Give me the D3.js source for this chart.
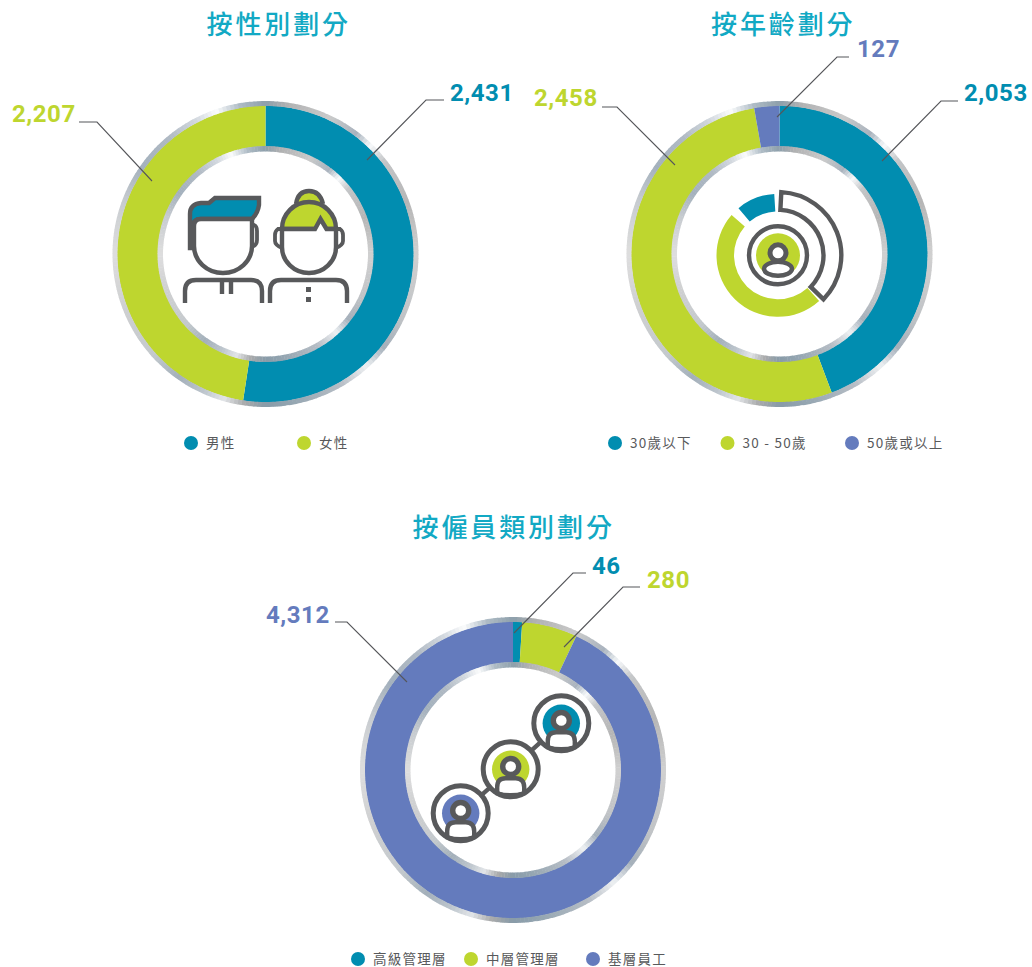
<!DOCTYPE html>
<html><head><meta charset="utf-8">
<script src="https://cdn.jsdelivr.net/npm/d3@7/dist/d3.min.js"></script>
<style>html,body{margin:0;padding:0;background:#fff;overflow:hidden}svg{display:block}</style>
</head><body><svg id="c" width="1032" height="967"></svg>
<script>
const BLUE="#018db0",GREEN="#bed62f",PURPLE="#647bbd",GREY="#58595b",TITLE="#12a9c4";
// data
const genderCats=["男性","女性"],genderVals=[2431,2207];
const ageCats=["30歲以下","30 - 50歲","50歲或以上"],ageVals=[2053,2458,127];
const roleCats=["高級管理層","中層管理層","基層員工"],roleVals=[46,280,4312];
const seriesColors=[BLUE,GREEN,PURPLE];
// metallic ring colour stops [degrees clockwise from top, colour]
const ringDeg=[0,8,25,37,44,52,70,90,115,128,138,150,170,180,188,196,204,215,228,250,270,290,305,320,333,341,350,360];
const ringCol=["#8d9fab","#b0b1b2","#cacaca","#a9b3be","#f7f9fb","#c3c5c7","#b6b6b6","#d0d0d0","#c0c3c6","#a4afba","#eef1f3","#b6bdc5","#94a5b1","#889ba8","#a9aaab","#e2e5e8","#bec6cd","#a3afba","#c4c9cd","#cfd0d1","#dedede","#c8ccd0","#a4b1bd","#afb9c3","#d4dae0","#fbfcfd","#afbcc6","#8d9fab"];
const ringColor=d3.scaleLinear().domain(ringDeg).range(ringCol).interpolate(d3.interpolateRgb);
const ringSteps=d3.range(0,360,1.5);

const svg=d3.select("#c");
const rad=d=>d*Math.PI/180;
const R={o2:153,o1:148,i1:108,i2:102.5};

function donut(cx,cy,vals){
  const g=svg.append("g").attr("transform",`translate(${cx},${cy})`);
  const arc=d3.arc().innerRadius(R.i1-.5).outerRadius(R.o1+.5);
  g.selectAll("path.s").data(d3.pie().sort(null)(vals)).join("path").attr("class","s")
    .attr("d",arc).attr("fill",(d,i)=>seriesColors[i]);
  [[R.o1,R.o2],[R.i2,R.i1]].forEach(([a,b])=>{
    const ar=d3.arc().innerRadius(a).outerRadius(b);
    g.append("g").selectAll("path").data(ringSteps).join("path")
      .attr("d",d=>ar({startAngle:rad(d),endAngle:rad(d+1.7)}))
      .attr("fill",d=>ringColor(d+.75));
  });
  return g;
}
function title(t,x,y){
  svg.append("text").text(t).attr("x",x).attr("y",y)
    .attr("font-family","'Noto Sans CJK TC'").attr("font-weight",500)
    .attr("font-size",26).attr("letter-spacing",2.9).attr("fill",TITLE);
}
function callout(txt,col,lx,ly,pts){
  svg.append("path").attr("d",d3.line()(pts)).attr("fill","none").attr("stroke","#55565a").attr("stroke-width",1.1);
  svg.append("text").text(txt).attr("x",lx).attr("y",ly)
    .attr("font-family","Roboto").attr("font-weight",700).attr("font-size",24)
    .attr("letter-spacing",0.55).attr("fill",col);
}
function legend(items,y){
  items.forEach(([t,cx,col])=>{
    svg.append("circle").attr("cx",cx).attr("cy",y).attr("r",7).attr("fill",col);
    svg.append("text").text(t).attr("x",cx+15).attr("y",y+4.6)
      .attr("font-family","'Noto Sans CJK TC'").attr("font-size",13.5).attr("letter-spacing",1.25).attr("fill",GREY);
  });
}
const st=(s,w=4.4)=>s.attr("fill","none").attr("stroke",GREY).attr("stroke-width",w).attr("stroke-linejoin","miter");

// ---- Gender
title("按性別劃分",206.5,34);
donut(265.5,254,genderVals);
callout("2,431",BLUE,450,101,[[367,160],[426,100],[444,100]]);
callout("2,207",GREEN,12,122,[[79,122],[97,122],[152,181]]);
legend([[genderCats[0],191,BLUE],[genderCats[1],304,GREEN]],443);
(function(){
  const g=svg.append("g");
  // man
  st(g.append("path").attr("d","M190,248V214Q190,204 201,203H209L215,198H259V205Q258,213 252,219H200Q194,219 192,226V248Z")).attr("fill",BLUE);
  st(g.append("path").attr("d","M194,226Q194,219 201,219H252V246A29,27 0 0 1 194,246Z")).attr("fill","#fff");
  st(g.append("path").attr("d","M252,225H254Q257,226 257,231V240Q257,245 252,247"),3.8);
  st(g.append("path").attr("d","M192,226V248"),4.5);
  st(g.append("path").attr("d","M185,303V291Q185,280 196,280H251Q262,280 262,291V303"));
  st(g.append("path").attr("d","M222,280V294M231,280V294"));
  // woman
  st(g.append("path").attr("d","M296,204Q298,191 309,191Q320,191 323,204")).attr("fill",GREEN);
  st(g.append("path").attr("d","M282,229A27,27 0 0 1 336,229Z")).attr("fill",GREEN);
  st(g.append("path").attr("d","M282,229H315L320.5,219L326.5,229H336V247A27,26 0 0 1 282,247Z")).attr("fill","#fff");
  st(g.append("path").attr("d","M282,229H278Q275,231 275,235V241Q275,245 282,248"),3.8);
  st(g.append("path").attr("d","M336,229H340Q343,231 343,235V241Q343,245 336,248"),3.8);
  st(g.append("path").attr("d","M270,303V291Q270,280 281,280H336Q347,280 347,291V303"));
  g.append("rect").attr("x",306).attr("y",287).attr("width",5).attr("height",5).attr("fill",GREY);
  g.append("rect").attr("x",306).attr("y",297).attr("width",5).attr("height",5).attr("fill",GREY);
})();

// ---- Age
title("按年齡劃分",711,34);
donut(779.5,254,ageVals);
callout("2,053",BLUE,964,101,[[882,161],[941,101],[958,101]]);
callout("127",PURPLE,857,57,[[777,117],[837,57],[849,57]]);
callout("2,458",GREEN,534,106,[[675,165],[617,107],[602,107]]);
legend([[ageCats[0],615,BLUE],[ageCats[1],727.5,GREEN],[ageCats[2],852,PURPLE]],443);
(function(){
  const g=svg.append("g").attr("transform","translate(778,255.3)");
  const a=d3.arc();
  g.append("path").attr("d",a({innerRadius:44,outerRadius:61.5,startAngle:rad(-40),endAngle:rad(-3.5)})).attr("fill",BLUE);
  g.append("path").attr("d",a({innerRadius:44,outerRadius:61.5,startAngle:rad(138),endAngle:rad(311)})).attr("fill",GREEN);
  st(g.append("path").attr("d",a({innerRadius:45.5,outerRadius:63.3,startAngle:rad(3),endAngle:rad(134)})));
  g.append("circle").attr("r",22).attr("fill",GREEN);
  st(g.append("circle").attr("r",29));
  st(g.append("ellipse").attr("cx",0).attr("cy",13.5).attr("rx",14).attr("ry",7)).attr("fill","#fff");
  st(g.append("circle").attr("cy",-2.5).attr("r",8),5).attr("fill","#fff");
})();

// ---- Role
title("按僱員類別劃分",412.5,537);
donut(513,770,roleVals);
callout("46",BLUE,592,574,[[514,633],[573,573],[586,573]]);
callout("280",GREEN,647,588,[[564,647],[623,587],[640,587]]);
callout("4,312",PURPLE,266,623,[[335,622],[347,622],[407,682]]);
legend([[roleCats[0],358,BLUE],[roleCats[1],471,GREEN],[roleCats[2],593,PURPLE]],959);
(function(){
  const centers=[[561.3,723.3,BLUE],[510.7,769.3,GREEN],[460.7,813.3,PURPLE]];
  st(svg.append("path").attr("d",d3.line()(centers.map(c=>[c[0],c[1]]))));
  centers.forEach(([x,y,col])=>{
    const g=svg.append("g").attr("transform",`translate(${x},${y})`);
    g.append("circle").attr("r",27.5).attr("fill","#fff");
    g.append("circle").attr("r",18.7).attr("fill",col);
    st(g.append("path").attr("d","M-13.5,24V18Q-13.5,9 -5,9H5Q13.5,9 13.5,18V24Q0,28 -13.5,24Z")).attr("fill","#fff");
    st(g.append("circle").attr("cy",-2.8).attr("r",8),5.4).attr("fill","#fff");
    st(g.append("circle").attr("r",27.5),5);
  });
})();
</script></body></html>
